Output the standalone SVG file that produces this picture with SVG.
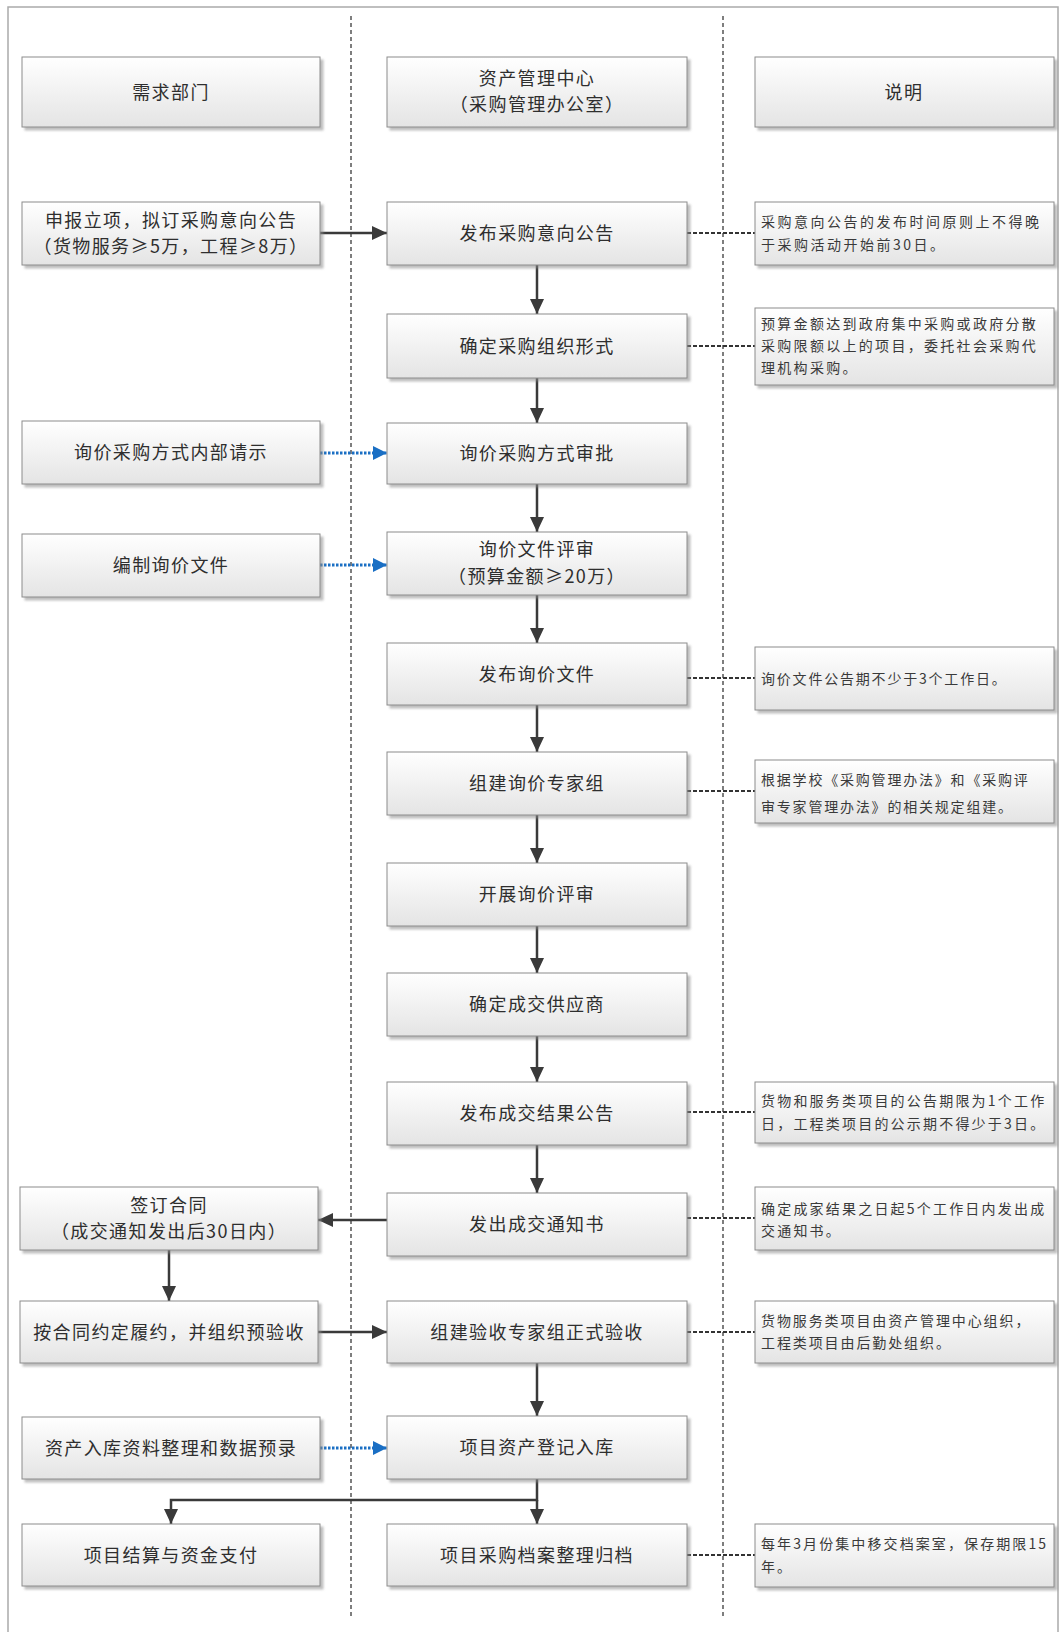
<svg xmlns="http://www.w3.org/2000/svg" width="1059" height="1632" viewBox="0 0 1059 1632">
<defs>
<linearGradient id="g" x1="0" y1="0" x2="0" y2="1">
<stop offset="0" stop-color="#ffffff"/>
<stop offset="1" stop-color="#e4e4e4"/>
</linearGradient>
<filter id="sh" x="-5%" y="-10%" width="115%" height="130%">
<feDropShadow dx="3" dy="3" stdDeviation="1.2" flood-color="#8a8a8a" flood-opacity="0.55"/>
</filter>
<marker id="ah" markerUnits="userSpaceOnUse" markerWidth="15" markerHeight="14" refX="15" refY="7" orient="auto">
<path d="M0,0 L15,7 L0,14 z" fill="#3a3a3a"/>
</marker>
<marker id="ab" markerUnits="userSpaceOnUse" markerWidth="14" markerHeight="14" refX="14" refY="7" orient="auto">
<path d="M0,0 L14,7 L0,14 z" fill="#1a6fc4"/>
</marker>
<style>
.box{fill:url(#g);stroke:#8c8c8c;stroke-width:1;filter:url(#sh)}
.t{font-family:"Noto Sans CJK SC","Liberation Sans",sans-serif;font-size:18px;fill:#2e2e2e;text-anchor:middle;letter-spacing:1.4px}
.n{font-family:"Noto Sans CJK SC","Liberation Sans",sans-serif;font-size:14px;fill:#3a3a3a;letter-spacing:2.2px}
.lane{stroke:#3a3a3a;stroke-width:1.3;stroke-dasharray:4 3;fill:none}
.frame{stroke:#aaaaaa;stroke-width:1.5;fill:none}
.arr{stroke:#3a3a3a;stroke-width:2.5;fill:none;marker-end:url(#ah)}
.blue{stroke:#1a6fc4;stroke-width:3;stroke-dasharray:2.5 1.5;fill:none;marker-end:url(#ab)}
.dot{stroke:#333;stroke-width:2;stroke-dasharray:4 2;fill:none}
</style>
</defs>
<rect width="1059" height="1632" fill="#ffffff"/>
<path class="frame" d="M8,1632 V7 H1058 V1632"/>
<line class="lane" x1="351" y1="16" x2="351" y2="1617"/>
<line class="lane" x1="723" y1="16" x2="723" y2="1617"/>

<g id="connectors">
<line class="arr" x1="320" y1="233" x2="387" y2="233"/>
<line class="arr" x1="537" y1="265" x2="537" y2="314"/>
<line class="arr" x1="537" y1="378" x2="537" y2="423"/>
<line class="arr" x1="537" y1="484" x2="537" y2="532"/>
<line class="arr" x1="537" y1="595" x2="537" y2="643"/>
<line class="arr" x1="537" y1="705" x2="537" y2="752"/>
<line class="arr" x1="537" y1="815" x2="537" y2="863"/>
<line class="arr" x1="537" y1="926" x2="537" y2="973"/>
<line class="arr" x1="537" y1="1036" x2="537" y2="1082"/>
<line class="arr" x1="537" y1="1145" x2="537" y2="1193"/>
<line class="arr" x1="387" y1="1220" x2="318" y2="1220"/>
<line class="arr" x1="169" y1="1250" x2="169" y2="1301"/>
<line class="arr" x1="318" y1="1332" x2="387" y2="1332"/>
<line class="arr" x1="537" y1="1363" x2="537" y2="1416"/>
<path class="arr" d="M537,1479 V1500 H171 V1524"/>
<line class="arr" x1="537" y1="1500" x2="537" y2="1524"/>
<line class="blue" x1="320" y1="453" x2="387" y2="453"/>
<line class="blue" x1="320" y1="565" x2="387" y2="565"/>
<line class="blue" x1="320" y1="1448" x2="387" y2="1448"/>
<line class="dot" x1="687" y1="233" x2="755" y2="233"/>
<line class="dot" x1="687" y1="346" x2="755" y2="346"/>
<line class="dot" x1="687" y1="678" x2="755" y2="678"/>
<line class="dot" x1="687" y1="791" x2="755" y2="791"/>
<line class="dot" x1="687" y1="1112" x2="755" y2="1112"/>
<line class="dot" x1="687" y1="1218" x2="755" y2="1218"/>
<line class="dot" x1="687" y1="1332" x2="755" y2="1332"/>
<line class="dot" x1="687" y1="1555" x2="755" y2="1555"/>
</g>

<g id="hdr-dept"><rect class="box" x="22" y="57" width="298" height="70"/><text class="t" x="171" y="98.5">需求部门</text></g>
<g id="hdr-center"><rect class="box" x="387" y="57" width="300" height="70"/><text class="t" x="537" y="85">资产管理中心</text><text class="t" x="537" y="111">（采购管理办公室）</text></g>
<g id="hdr-note"><rect class="box" x="755" y="57" width="299" height="70"/><text class="t" x="904" y="98.5">说明</text></g>

<g id="l1"><rect class="box" x="22" y="202" width="298" height="63"/><text class="t" x="171" y="227">申报立项，拟订采购意向公告</text><text class="t" x="171" y="253">（货物服务≥5万，工程≥8万）</text></g>
<g id="l2"><rect class="box" x="22" y="421" width="298" height="63"/><text class="t" x="171" y="459">询价采购方式内部请示</text></g>
<g id="l3"><rect class="box" x="22" y="534" width="298" height="63"/><text class="t" x="171" y="572">编制询价文件</text></g>
<g id="l4"><rect class="box" x="20" y="1187" width="298" height="63"/><text class="t" x="169" y="1212">签订合同</text><text class="t" x="169" y="1238">（成交通知发出后30日内）</text></g>
<g id="l5"><rect class="box" x="20" y="1301" width="298" height="62"/><text class="t" x="169" y="1338.5">按合同约定履约，并组织预验收</text></g>
<g id="l6"><rect class="box" x="22" y="1417" width="298" height="62"/><text class="t" x="171" y="1454.5">资产入库资料整理和数据预录</text></g>
<g id="l7"><rect class="box" x="22" y="1524" width="298" height="62"/><text class="t" x="171" y="1561.5">项目结算与资金支付</text></g>

<g id="m1"><rect class="box" x="387" y="202" width="300" height="63"/><text class="t" x="537" y="240">发布采购意向公告</text></g>
<g id="m2"><rect class="box" x="387" y="314" width="300" height="64"/><text class="t" x="537" y="352.5">确定采购组织形式</text></g>
<g id="m3"><rect class="box" x="387" y="423" width="300" height="61"/><text class="t" x="537" y="460">询价采购方式审批</text></g>
<g id="m4"><rect class="box" x="387" y="532" width="300" height="63"/><text class="t" x="537" y="556">询价文件评审</text><text class="t" x="537" y="583">（预算金额≥20万）</text></g>
<g id="m5"><rect class="box" x="387" y="643" width="300" height="62"/><text class="t" x="537" y="680.5">发布询价文件</text></g>
<g id="m6"><rect class="box" x="387" y="752" width="300" height="63"/><text class="t" x="537" y="790">组建询价专家组</text></g>
<g id="m7"><rect class="box" x="387" y="863" width="300" height="63"/><text class="t" x="537" y="901">开展询价评审</text></g>
<g id="m8"><rect class="box" x="387" y="973" width="300" height="63"/><text class="t" x="537" y="1011">确定成交供应商</text></g>
<g id="m9"><rect class="box" x="387" y="1082" width="300" height="63"/><text class="t" x="537" y="1120">发布成交结果公告</text></g>
<g id="m10"><rect class="box" x="387" y="1193" width="300" height="63"/><text class="t" x="537" y="1231">发出成交通知书</text></g>
<g id="m11"><rect class="box" x="387" y="1301" width="300" height="62"/><text class="t" x="537" y="1338.5">组建验收专家组正式验收</text></g>
<g id="m12"><rect class="box" x="387" y="1416" width="300" height="63"/><text class="t" x="537" y="1454">项目资产登记入库</text></g>
<g id="m13"><rect class="box" x="387" y="1524" width="300" height="62"/><text class="t" x="537" y="1561.5">项目采购档案整理归档</text></g>

<g id="n1"><rect class="box" x="755" y="202" width="299" height="63"/><text class="n" x="761" y="227" style="letter-spacing:2.5px">采购意向公告的发布时间原则上不得晚</text><text class="n" x="761" y="250" style="letter-spacing:2.5px">于采购活动开始前30日。</text></g>
<g id="n2"><rect class="box" x="755" y="308" width="299" height="77"/><text class="n" x="761" y="329" style="letter-spacing:2.3px">预算金额达到政府集中采购或政府分散</text><text class="n" x="761" y="351" style="letter-spacing:2.3px">采购限额以上的项目，委托社会采购代</text><text class="n" x="761" y="373" style="letter-spacing:2.3px">理机构采购。</text></g>
<g id="n3"><rect class="box" x="755" y="647" width="299" height="63"/><text class="n" x="761" y="683.5" style="letter-spacing:1.8px">询价文件公告期不少于3个工作日。</text></g>
<g id="n4"><rect class="box" x="755" y="760" width="299" height="63"/><text class="n" x="761" y="785" style="letter-spacing:1.8px">根据学校《采购管理办法》和《采购评</text><text class="n" x="761" y="812" style="letter-spacing:1.8px">审专家管理办法》的相关规定组建。</text></g>
<g id="n5"><rect class="box" x="755" y="1082" width="299" height="61"/><text class="n" x="761" y="1106">货物和服务类项目的公告期限为1个工作</text><text class="n" x="761" y="1129">日，工程类项目的公示期不得少于3日。</text></g>
<g id="n6"><rect class="box" x="755" y="1187" width="299" height="63"/><text class="n" x="761" y="1214">确定成家结果之日起5个工作日内发出成</text><text class="n" x="761" y="1236">交通知书。</text></g>
<g id="n7"><rect class="box" x="755" y="1301" width="299" height="62"/><text class="n" x="761" y="1326" style="letter-spacing:1.9px">货物服务类项目由资产管理中心组织，</text><text class="n" x="761" y="1348" style="letter-spacing:1.9px">工程类项目由后勤处组织。</text></g>
<g id="n8"><rect class="box" x="755" y="1524" width="299" height="63"/><text class="n" x="761" y="1549" style="letter-spacing:2.1px">每年3月份集中移交档案室，保存期限15</text><text class="n" x="761" y="1572" style="letter-spacing:2.1px">年。</text></g>
</svg>
